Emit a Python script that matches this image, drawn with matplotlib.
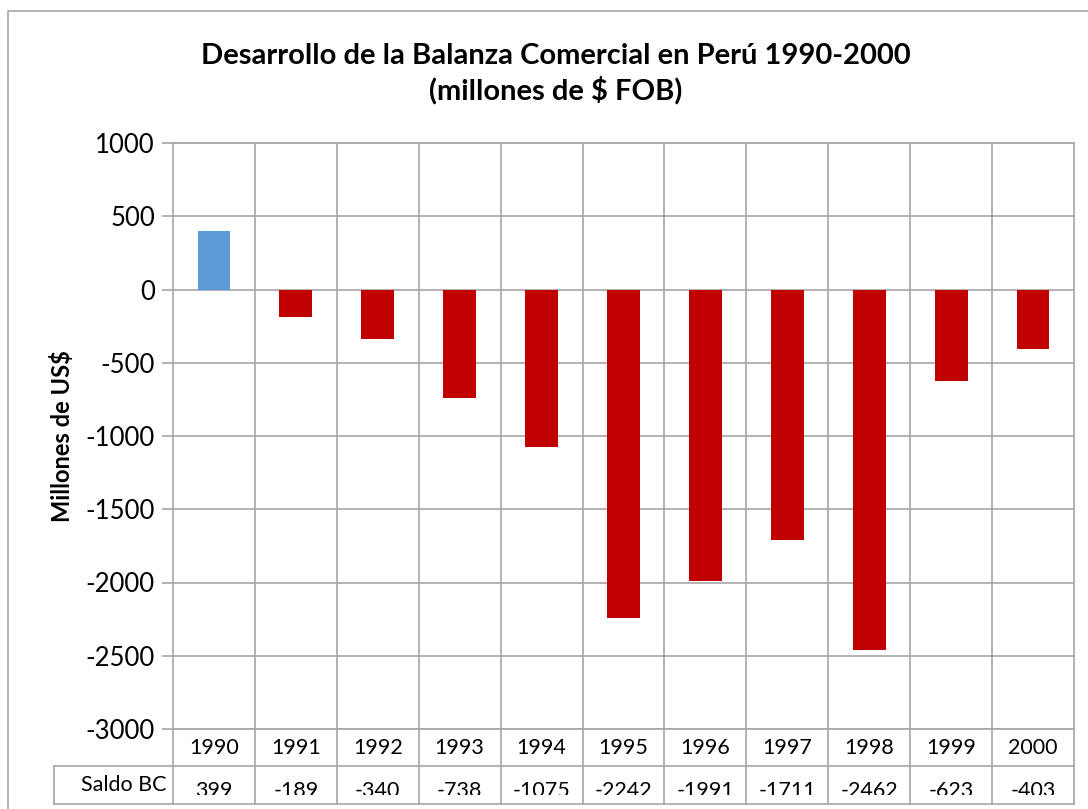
import matplotlib
matplotlib.use("Agg")
import matplotlib.pyplot as plt
from matplotlib.lines import Line2D
from matplotlib.patches import Rectangle
from matplotlib.transforms import blended_transform_factory, Bbox

years = ["1990", "1991", "1992", "1993", "1994", "1995", "1996", "1997", "1998", "1999", "2000"]
saldo_bc = [399, -189, -340, -738, -1075, -2242, -1991, -1711, -2462, -623, -403]
yticks = [1000, 500, 0, -500, -1000, -1500, -2000, -2500, -3000]
title = "Desarrollo de la Balanza Comercial en Perú 1990-2000\n(millones de $ FOB)"
ylabel = "Millones de US$"
row_label = "Saldo BC"

plt.rcParams['font.family'] = ['Lato', 'DejaVu Sans']

W, H = 1088, 809
fig = plt.figure(figsize=(W / 100, H / 100), dpi=100)

def fx(x):
    return x / W

def fy(y):
    return 1 - y / H

GRID = "#A6A6A6"
BLUE = "#5B9BD5"
RED = "#C00000"

# outer chart border
fig.add_artist(Rectangle((fx(8), fy(1000)), 1.2, fy(11) - fy(1000), transform=fig.transFigure,
                         fill=False, edgecolor=GRID, lw=1.2))

L, R, T, B = 173, 1074, 143, 729
ax = fig.add_axes([fx(L), fy(B), fx(R) - fx(L), fy(T) - fy(B)])

x = list(range(len(years)))
colors = [BLUE if v >= 0 else RED for v in saldo_bc]
ax.bar(x, saldo_bc, width=0.4, color=colors, zorder=3)

ax.set_xlim(-0.5, len(years) - 0.5)
ax.set_ylim(-3000, 1000)
ax.set_yticks(yticks)
ax.set_yticklabels([str(v) for v in yticks], fontsize=18.5)
ax.set_xticks([])
ax.set_xticks([i + 0.5 for i in range(len(years) - 1)], minor=True)
ax.tick_params(axis='x', which='both', length=0)
ax.tick_params(axis='y', length=8, color=GRID, width=1.2, pad=5)
ax.grid(True, axis='y', color=GRID, lw=1.2, zorder=0)
ax.grid(True, axis='x', which='minor', color=GRID, lw=1.2, zorder=0)
for s in ax.spines.values():
    s.set_color(GRID)
    s.set_linewidth(1.2)

ax.set_ylabel(ylabel, fontsize=17, fontweight='bold')
ax.yaxis.set_label_coords((62 - L) / (R - L), (fy(436) - fy(B)) / (fy(T) - fy(B)))
ax.yaxis.label.set_verticalalignment('center')

fig.text(fx(556), fy(74), title, ha='center', va='center', fontsize=21,
         fontweight='bold', linespacing=1.3)

# data table below the axes
tr = blended_transform_factory(ax.transData, fig.transFigure)
row1_top, row1_bot, row2_bot = 729, 766, 804
fig.add_artist(Line2D([fx(54), fx(R)], [fy(row1_bot)] * 2, transform=fig.transFigure, color=GRID, lw=1.2))
fig.add_artist(Line2D([fx(54), fx(R)], [fy(row2_bot)] * 2, transform=fig.transFigure, color=GRID, lw=1.2))
fig.add_artist(Line2D([fx(54)] * 2, [fy(row1_bot), fy(row2_bot)], transform=fig.transFigure, color=GRID, lw=1.2))
fig.add_artist(Line2D([fx(L)] * 2, [fy(row1_top), fy(row2_bot)], transform=fig.transFigure, color=GRID, lw=1.2))
fig.add_artist(Line2D([fx(R)] * 2, [fy(row1_top), fy(row2_bot)], transform=fig.transFigure, color=GRID, lw=1.2))
for i in range(len(years) - 1):
    fig.add_artist(Line2D([i + 0.5] * 2, [fy(row1_top), fy(row2_bot)], transform=tr, color=GRID, lw=1.2))

clipbox = Bbox.from_extents(0, H - 795, W, H)
for i, (yr, v) in enumerate(zip(years, saldo_bc)):
    fig.text(i, fy(748), yr, transform=tr, ha='center', va='center', fontsize=15.5)
    t = fig.text(i, fy(797), str(v), transform=tr, ha='center', va='baseline', fontsize=15.5)
    t.set_clip_box(clipbox)
    t.set_clip_on(True)
fig.text(fx(124), fy(785), row_label, ha='center', va='center', fontsize=15.5)

fig.savefig("out.png", dpi=100)
